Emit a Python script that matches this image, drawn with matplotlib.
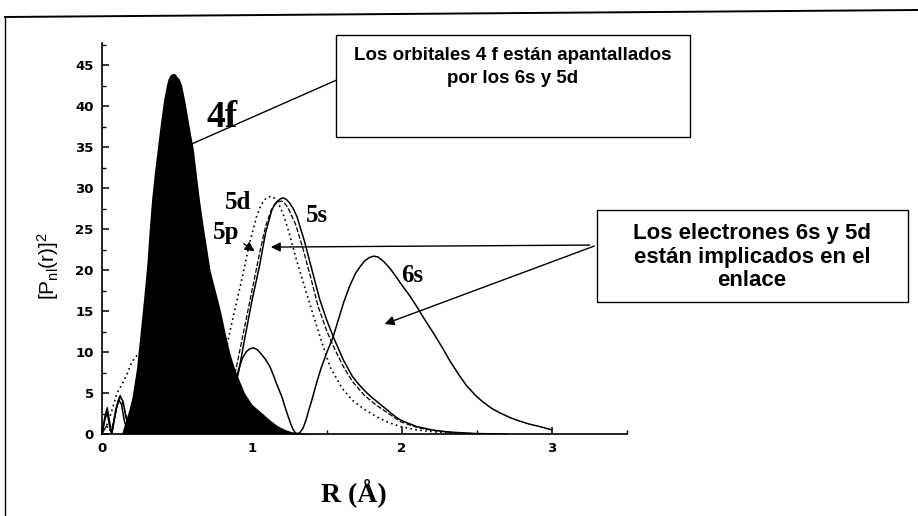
import matplotlib
matplotlib.use("Agg")
import matplotlib.pyplot as plt
from matplotlib.lines import Line2D
from matplotlib.patches import Rectangle
from matplotlib.ticker import MultipleLocator

plt.rcParams['font.family'] = ['Liberation Sans', 'DejaVu Sans']
plt.rcParams['mathtext.default'] = 'regular'

# radial probability [P_nl(r)]^2 vs R (Angstrom), read per orbital
r_4f = [0.13, 0.15, 0.18, 0.20, 0.23, 0.255, 0.28, 0.30, 0.315, 0.33, 0.35, 0.37, 0.39,
        0.41, 0.43, 0.44, 0.45, 0.46, 0.475, 0.49, 0.50, 0.515, 0.53, 0.55, 0.57, 0.59,
        0.61, 0.63, 0.65, 0.675, 0.70, 0.72, 0.755, 0.79, 0.82, 0.85, 0.875, 0.90, 0.95,
        1.00, 1.07, 1.12, 1.17, 1.22, 1.26, 1.32, 1.40, 1.50]
p_4f = [0.0, 1.2, 3.0, 4.5, 8.0, 12.5, 17.0, 21.0, 25.0, 28.5, 32.0, 35.0, 38.0,
        40.7, 42.6, 43.3, 43.7, 43.9, 44.0, 43.9, 43.6, 43.3, 42.6, 40.8, 38.7, 36.6,
        34.6, 31.5, 28.5, 25.3, 22.4, 20.0, 17.5, 15.0, 12.4, 10.0, 8.5, 7.2, 5.0,
        3.6, 2.5, 1.7, 1.0, 0.55, 0.3, 0.15, 0.05, 0.0]

r_5s = [0.0, 0.02, 0.035, 0.05, 0.065, 0.08, 0.10, 0.12, 0.14, 0.16, 0.18, 0.20, 0.30,
        0.40, 0.50, 0.60, 0.70, 0.78, 0.85, 0.91, 0.95, 1.00, 1.05, 1.09, 1.13, 1.15,
        1.17, 1.19, 1.21, 1.23, 1.25, 1.275, 1.30, 1.35, 1.40, 1.45, 1.50, 1.55, 1.61,
        1.67, 1.71, 1.75, 1.79, 1.83, 1.87, 1.91, 1.95, 1.99, 2.05, 2.10, 2.15, 2.20,
        2.27, 2.35, 2.50, 2.70]
p_5s = [0.0, 2.2, 3.2, 1.5, 0.0, 1.5, 3.5, 4.6, 4.0, 2.0, 0.5, 0.3, 3.0,
        6.0, 6.5, 4.0, 1.0, 0.5, 3.0, 7.5, 11.5, 16.3, 20.5, 24.5, 27.2, 28.0,
        28.4, 28.7, 28.8, 28.6, 28.2, 27.5, 26.5, 23.5, 20.0, 16.5, 13.8, 11.5, 9.0,
        7.0, 6.1, 5.3, 4.6, 4.0, 3.4, 2.8, 2.2, 1.7, 1.25, 0.9, 0.7, 0.5,
        0.32, 0.2, 0.05, 0.0]

r_5p = [0.0, 0.03, 0.06, 0.09, 0.12, 0.15, 0.18, 0.25, 0.40, 0.55, 0.70, 0.80, 0.86,
        0.90, 0.95, 1.00, 1.05, 1.09, 1.13, 1.15, 1.17, 1.185, 1.20, 1.22, 1.24, 1.29,
        1.34, 1.39, 1.44, 1.50, 1.55, 1.61, 1.67, 1.75, 1.83, 1.91, 1.99, 2.10, 2.20,
        2.35, 2.50]
p_5p = [0.0, 1.0, 0.3, 2.5, 4.8, 3.0, 1.0, 0.8, 5.0, 4.0, 1.0, 1.5, 5.0,
        8.5, 13.0, 17.5, 22.0, 25.3, 27.4, 27.9, 28.3, 28.4, 28.4, 28.1, 27.6, 25.6,
        22.6, 19.2, 15.6, 12.5, 10.4, 8.2, 6.4, 4.7, 3.5, 2.5, 1.5, 0.8, 0.45,
        0.15, 0.03]

r_5d = [0.0, 0.03, 0.06, 0.10, 0.15, 0.20, 0.25, 0.30, 0.40, 0.50, 0.60, 0.70, 0.78,
        0.85, 0.90, 0.94, 0.98, 1.03, 1.055, 1.08, 1.105, 1.13, 1.155, 1.18, 1.21, 1.24,
        1.27, 1.30, 1.35, 1.40, 1.46, 1.52, 1.60, 1.67, 1.75, 1.83, 1.91, 1.99, 2.10,
        2.25, 2.40]
p_5d = [0.0, 1.0, 2.5, 5.0, 6.6, 8.8, 10.0, 9.5, 6.0, 2.0, 0.3, 2.0, 6.0,
        12.3, 16.3, 19.5, 23.0, 26.5, 27.7, 28.5, 28.9, 29.0, 28.7, 28.0, 26.7, 25.0,
        23.0, 21.0, 18.0, 15.0, 11.5, 8.2, 5.6, 4.1, 3.0, 2.1, 1.4, 0.9, 0.5,
        0.2, 0.05]

r_6s = [0.0, 0.02, 0.035, 0.05, 0.065, 0.09, 0.11, 0.13, 0.15, 0.18, 0.30, 0.40, 0.55,
        0.70, 0.78, 0.85, 0.91, 0.935, 0.96, 0.985, 1.01, 1.035, 1.06, 1.09, 1.12, 1.14,
        1.16, 1.18, 1.20, 1.22, 1.24, 1.255, 1.27, 1.285, 1.30, 1.32, 1.34, 1.36, 1.38,
        1.40, 1.43, 1.46, 1.50, 1.54, 1.58, 1.61, 1.65, 1.69, 1.72, 1.75, 1.78, 1.81,
        1.84, 1.88, 1.92, 1.96, 1.99, 2.05, 2.10, 2.15, 2.21, 2.27, 2.32, 2.38, 2.43,
        2.49, 2.54, 2.60, 2.65, 2.72, 2.78, 2.85, 2.92, 3.00]
p_6s = [0.0, 1.8, 2.6, 1.0, 0.0, 2.8, 4.2, 3.6, 1.5, 0.0, 1.0, 0.0, 1.5,
        0.5, 0.0, 3.0, 7.8, 9.2, 10.0, 10.4, 10.5, 10.3, 9.8, 9.1, 8.2, 7.3,
        6.3, 5.4, 4.5, 3.3, 2.2, 1.4, 0.7, 0.25, 0.0, 0.2, 0.7, 1.7, 3.0,
        4.2, 6.2, 8.0, 10.0, 11.8, 14.2, 16.0, 18.0, 19.6, 20.4, 21.1, 21.5, 21.7,
        21.6, 21.0, 20.2, 19.2, 18.4, 16.9, 15.5, 14.0, 12.3, 10.5, 8.9, 7.2, 5.9,
        4.7, 3.9, 3.1, 2.6, 2.0, 1.6, 1.2, 0.9, 0.5]

box_4f_text = "Los orbitales 4 f están apantallados\npor los 6s y 5d"
box_bond_text = "Los electrones 6s y 5d\nestán implicados en el\nenlace"

W, H = 918, 516
fig = plt.figure(figsize=(W / 100, H / 100), dpi=100)
ax = fig.add_axes([102 / W, (H - 434) / H, 525 / W, 391 / H])


def fpx(px, py):
    # figure-pixel (top-left origin) -> figure fraction
    return px / W, 1 - py / H


lw = 1.1
ax.plot(r_5d, p_5d, color='k', lw=1.2, ls=(0, (1, 2)), zorder=2)
ax.plot(r_5p, p_5p, color='k', lw=0.9, ls=(0, (4, 1.5)), zorder=2)
ax.plot(r_5s, p_5s, color='k', lw=lw, zorder=2)
ax.plot(r_6s, p_6s, color='k', lw=lw, zorder=2)
ax.fill_between(r_4f, p_4f, 0, color='k', lw=0, zorder=3)

ax.set_xlim(0, 3.5)
ax.set_ylim(0, 47.7)
for s in ('top', 'right'):
    ax.spines[s].set_visible(False)
for s in ('left', 'bottom'):
    ax.spines[s].set_linewidth(1.2)

ax.set_xticks([0, 1, 2, 3])
ax.set_yticks(range(0, 46, 5))
ax.xaxis.set_minor_locator(MultipleLocator(0.5))
ax.yaxis.set_minor_locator(MultipleLocator(2.5))
ax.tick_params(which='major', direction='in', length=5, width=1.1,
               labelsize=9.5, pad=6)
ax.tick_params(which='minor', direction='in', length=3, width=1.0)
for lab in ax.get_xticklabels() + ax.get_yticklabels():
    lab.set_family('DejaVu Sans')
    lab.set_fontweight('bold')

ax.set_xlabel("R (Å)", family='Liberation Serif', fontweight='bold', fontsize=20)
ax.xaxis.set_label_coords(0.48, -0.112)
ax.set_ylabel("[P$_{nl}$(r)]$^2$", fontsize=15)
ax.yaxis.set_label_coords(-0.078, 0.43)

serif = dict(family='Liberation Serif', fontweight='bold', ha='center', va='center')
ax.text(0.80, 38.6, "4f", fontsize=27, **serif)
ax.text(0.91, 28.2, "5d", fontsize=18, **serif)
ax.text(0.83, 24.6, "5p", fontsize=18, **serif)
ax.text(1.43, 26.6, "5s", fontsize=18, **serif)
ax.text(2.07, 19.3, "6s", fontsize=18, **serif)

# leader lines and arrows
ax.plot([0.60, 1.74], [35.4, 44.6], color='k', lw=1.0, zorder=4)
arrow = dict(arrowstyle='-|>', color='k', lw=1.0, mutation_scale=14)
ax.annotate("", xy=(1.033, 22.1), xytext=(0.93, 23.4), arrowprops=arrow)
ax.annotate("", xy=(1.107, 22.8), xytext=(3.27, 23.05), arrowprops=arrow,
            annotation_clip=False)
ax.annotate("", xy=(1.867, 13.3), xytext=(3.30, 23.05), arrowprops=arrow,
            annotation_clip=False)

# text boxes
x0, y0 = fpx(336, 137)
fig.add_artist(Rectangle((x0, y0), (690 - 336) / W, (137 - 35) / H,
                         transform=fig.transFigure, fc='white', ec='k', lw=1.0))
fig.text(*fpx(513, 47), box_4f_text, ha='center', va='top', fontsize=13.5,
         fontweight='bold', linespacing=1.45)
x0, y0 = fpx(597, 302)
fig.add_artist(Rectangle((x0, y0), (908 - 597) / W, (302 - 210) / H,
                         transform=fig.transFigure, fc='white', ec='k', lw=1.0))
fig.text(*fpx(752, 257), box_bond_text, ha='center', va='center', fontsize=16,
         fontweight='bold', linespacing=1.13)

# outer frame
fig.add_artist(Line2D([5 / W, 1], [1 - 17 / H, 1 - 10 / H],
                      transform=fig.transFigure, color='k', lw=1.4))
fig.add_artist(Line2D([5 / W, 5 / W], [1 - 17 / H, 0],
                      transform=fig.transFigure, color='k', lw=1.0))

fig.savefig("out.png", dpi=100)
